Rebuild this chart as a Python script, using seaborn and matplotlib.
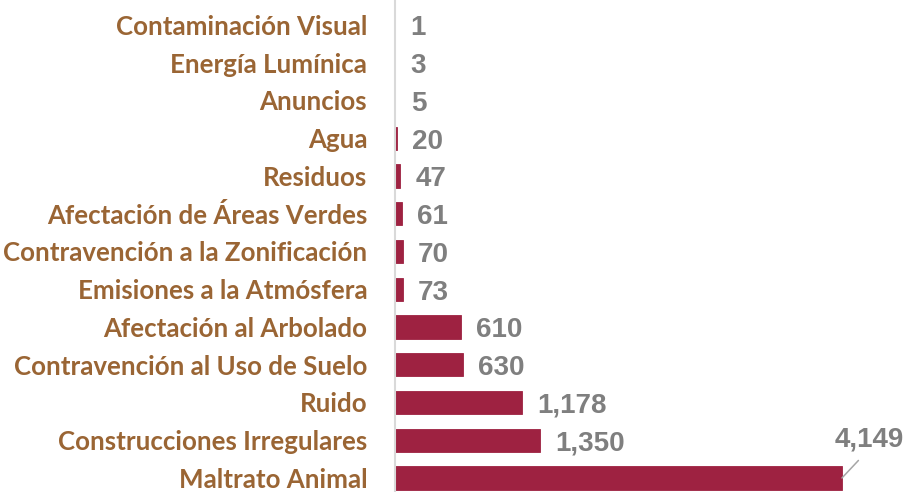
import matplotlib
matplotlib.use("Agg")
import matplotlib.pyplot as plt
import pandas as pd
import seaborn as sns

categories = [
    "Contaminación Visual",
    "Energía Lumínica",
    "Anuncios",
    "Agua",
    "Residuos",
    "Afectación de Áreas Verdes",
    "Contravención a la Zonificación",
    "Emisiones a la Atmósfera",
    "Afectación al Arbolado",
    "Contravención al Uso de Suelo",
    "Ruido",
    "Construcciones Irregulares",
    "Maltrato Animal",
]
values = [1, 3, 5, 20, 47, 61, 70, 73, 610, 630, 1178, 1350, 4149]

BAR = "#9E2241"
LABEL = "#9A6534"
VALUE = "#7F7F7F"

df = pd.DataFrame({"categoria": categories, "total": values})

sns.set_style("white")
fig = plt.figure(figsize=(9.09, 4.92), dpi=100)
ax = fig.add_axes([0.4345, 0.0, 0.5555, 1.0])
sns.barplot(data=df, y="categoria", x="total", color=BAR, saturation=1,
            width=0.61, orient="h", edgecolor=BAR, linewidth=0.6, ax=ax)

ax.set_xlim(0, 4687)
ax.set_ylim(12.371, -0.662)
ax.set_xlabel("")
ax.set_ylabel("")
ax.set_xticks([])
ax.tick_params(axis="y", length=0, pad=20)
for lbl in ax.get_yticklabels():
    lbl.set_fontfamily("Lato")
    lbl.set_fontweight("bold")
    lbl.set_fontsize(18.6)
    lbl.set_color(LABEL)

for s in ["top", "right", "bottom"]:
    ax.spines[s].set_visible(False)
ax.spines["left"].set_color("#D9D9D9")
ax.spines["left"].set_linewidth(1.5)

# value labels; the largest one sits above the bar with a leader line
for i, v in enumerate(values):
    if i == len(values) - 1:
        ax.annotate(f"{v:,}", xy=(v, i), xytext=(20, 28), textcoords="offset points",
                    ha="center", va="center", fontsize=20, fontweight="bold",
                    family="Liberation Sans", color=VALUE, zorder=5,
                    arrowprops=dict(arrowstyle="-", color="#A6A6A6", lw=1.1,
                                    relpos=(0.45, 0.0), shrinkA=5, shrinkB=0))
    else:
        ax.annotate(f"{v:,}", xy=(v, i), xytext=(11, -2.5), textcoords="offset points",
                    ha="left", va="center", fontsize=20, fontweight="bold",
                    family="Liberation Sans", color=VALUE)

fig.savefig("out.png", dpi=100)
